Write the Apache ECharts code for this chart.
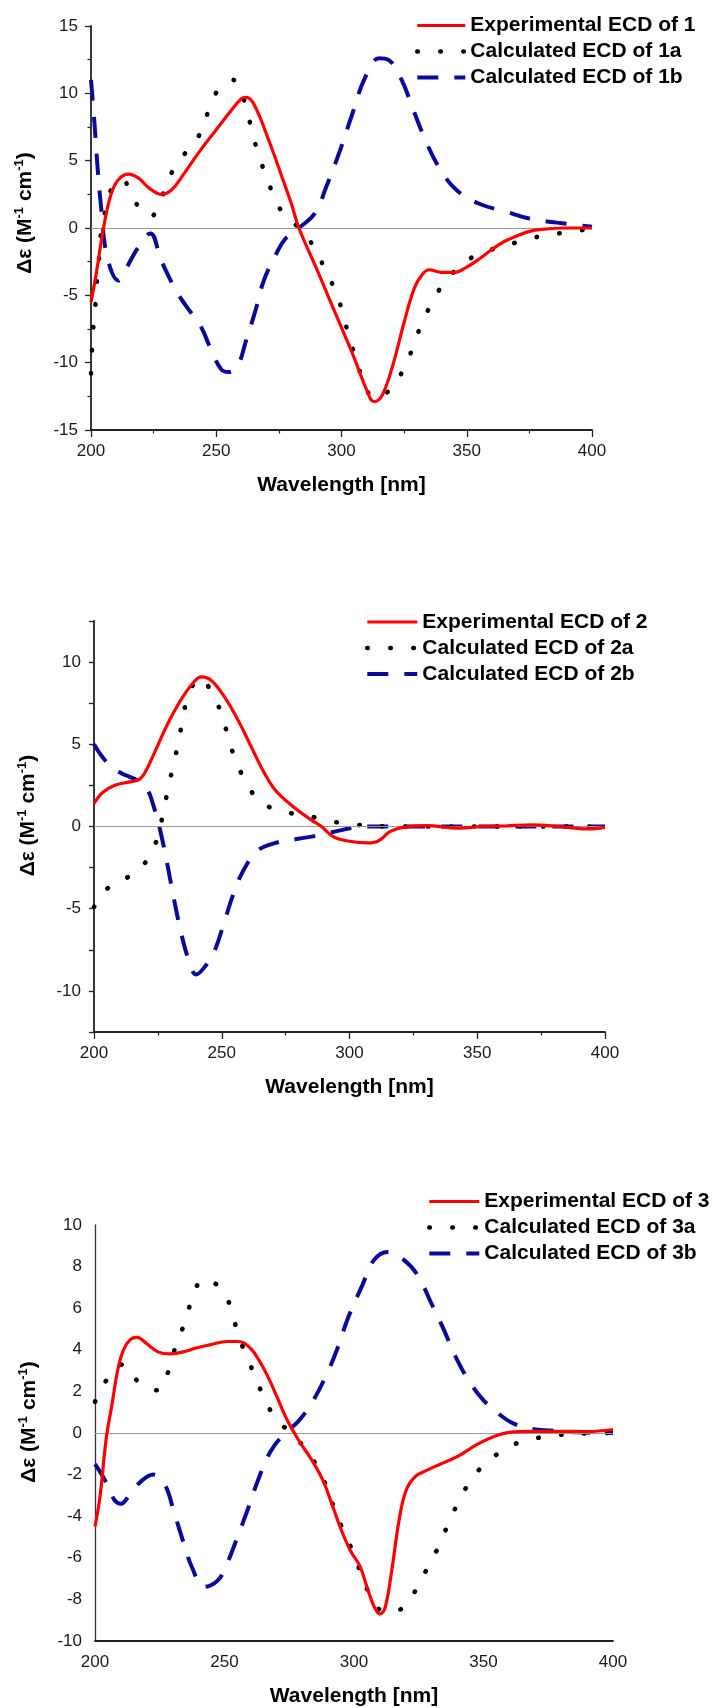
<!DOCTYPE html>
<html>
<head>
<meta charset="utf-8">
<script src="https://cdn.jsdelivr.net/npm/echarts@6/dist/echarts.min.js"></script>
<style>
  html, body { margin: 0; padding: 0; background: #fff; }
  #chart { width: 716px; height: 1708px; }
</style>
</head>
<body>
<div id="chart"></div>
<script>
// compound 1
const wl1e = [200,202,205,208,211,215,219,223,228,232,237,243,250,255,260,262,265,271,276.6,280,283,290,295,300,305,310,313,316,320,325,329,332,335,340,345,350,355,360,365,370,375,380,390,400];
const exp1 = [-5.5,-3.5,0,2.5,3.6,4.0,3.7,3.0,2.5,2.8,4.0,5.6,7.3,8.5,9.6,9.7,9.2,6.5,3.6,1.8,0,-3.0,-5.2,-7.4,-9.6,-12.0,-12.9,-12.5,-10.5,-7.0,-4.5,-3.5,-3.1,-3.3,-3.3,-2.9,-2.3,-1.6,-1.0,-0.6,-0.25,-0.1,0,0];
const wl1a = [200,200.4,200.9,201.8,202.4,203.3,204,205.8,208.2,212.4,217.3,223.7,228.3,231.9,236.5,242.9,246.5,250.2,256.6,261.1,263.5,266,269,272.3,276.3,283,289,293,297.6,300.5,303,306,308.6,313,319.5,325,328.6,332,336,340.5,347,355,364,373,382.5,391.6,400];
const calc1a = [-10.8,-9,-7.4,-5.6,-3.9,-2.1,-0.4,1.3,2.9,3.6,2.0,0.84,2.3,4.0,5.3,6.8,8.5,10.1,11.0,9.5,7.8,6.0,4.3,2.7,1.2,0,-1.4,-2.9,-4.7,-6.3,-8.1,-9.8,-11.3,-12.6,-12.0,-10.4,-8.8,-7.1,-5.6,-4.2,-2.9,-1.9,-1.4,-0.9,-0.5,-0.3,0];
const wl1b = [200,201.5,202.7,204,206.4,211,214,219,223.7,228,233.8,238,243.8,247.4,252,255,258.4,262,265.7,269,274,277.6,283,289.4,294,299.5,304,309.5,315,318.6,324,328.6,334,339.6,346,355,366,375,386,400];
const calc1b = [11.0,7.5,4.3,1.6,-2.1,-3.9,-3.0,-1.4,-0.4,-2.4,-4.6,-5.8,-7.3,-8.8,-10.5,-10.7,-10.3,-8.3,-6.1,-3.9,-1.9,-0.8,0,1.1,3.1,5.8,8.3,11.2,12.6,12.5,11.0,8.8,6.3,4.3,2.8,1.8,1.2,0.7,0.4,0.1];

// compound 2
const wl2e = [200,203.6,208,213.5,218,220.7,224,228.7,234,238.6,242,245.8,251,256.6,262,266.5,271,278,285,289,294,300,307,311,316,321,330,343,352,361,371.6,382,393,400];
const exp2 = [1.4,2.1,2.5,2.7,2.9,3.5,4.6,6.2,7.7,8.7,9.1,8.9,7.9,6.4,4.7,3.3,2.2,1.2,0.4,0,-0.65,-0.9,-1.0,-0.9,-0.3,-0.05,0.05,-0.1,0,0.03,0.1,0,-0.15,-0.05];
const wl2a = [200,205,214,221,225,227,229,231,233,234.7,236.8,241.3,246.7,250.3,253,255.7,260,265,274.6,283.6,292.5,302.4,321,340,368,400];
const calc2a = [-4.9,-3.8,-3.0,-2.0,-0.6,0.8,2.3,3.7,5.1,6.5,7.9,9.0,8.0,6.6,5.2,3.9,2.6,1.5,0.9,0.65,0.33,0.1,0,0,0,0];
const wl2b = [200,204.5,210,217,220.7,223.4,226,228.7,231.4,234,236.8,240,244,247.6,251,254.8,258.4,263.8,271,280,289,296,302.4,310,400];
const calc2b = [5.0,4.0,3.3,2.8,2.3,1.2,-0.3,-2.3,-4.5,-6.4,-8.0,-9.0,-8.4,-7.4,-5.8,-4.0,-2.7,-1.5,-1.0,-0.75,-0.5,-0.25,-0.05,0,0];

// compound 3
const wl3e = [200,202,204.3,206.6,208.9,211,213.7,216.3,219.9,224.3,228.7,234,239.4,244.7,250.9,255.3,259.8,263.3,266.8,270.4,273.9,278.4,283.7,288.1,291.7,295.2,298.8,302.3,305,307.6,310,312,314.7,317.4,320,323.6,328,333.3,340.4,347.5,354.6,360,368.8,379.4,390,400];
const exp3 = [-4.5,-3.0,-0.3,1.4,3.1,4.0,4.5,4.6,4.3,3.9,3.8,3.9,4.1,4.25,4.4,4.4,4.1,3.5,2.7,1.7,0.7,-0.3,-1.3,-2.3,-3.5,-4.7,-5.7,-6.4,-7.4,-8.3,-8.7,-8.4,-6.5,-4.2,-2.8,-2.1,-1.8,-1.5,-1.1,-0.55,-0.15,0.03,0.08,0.08,0.07,0.17];
const wl3a = [200,204.8,211,217.2,224.3,228.7,231.4,235,237.6,242,249,252.7,255.3,258.9,262.4,266,270.4,276.6,283.7,288.1,291.7,295.2,298.8,302.3,305.9,312,319,324.5,328.9,333.3,336.9,341.3,345.7,352,360,369.7,378.5,388.3,400];
const calc3a = [1.5,2.6,3.3,2.4,2.05,3.1,4.3,5.4,6.5,7.4,6.9,5.9,4.7,3.6,2.55,1.5,0.6,-0.1,-1.2,-2.2,-3.4,-4.5,-5.5,-6.6,-7.7,-8.6,-8.4,-7.4,-6.35,-5.3,-4.2,-3.1,-2.15,-1.35,-0.65,-0.27,-0.1,-0.02,0];
const wl3b = [200,204,207.4,210,213.7,218,222.5,227,230.5,234,237.6,242,247.3,250.9,254.4,258.9,263.3,267.7,273,278.4,283.7,289,293.4,297.9,303.2,307.6,313,319,324.5,329.8,334.2,339.5,344.9,350.2,356.4,361.7,368.8,375.9,386.5,400];
const calc3b = [-1.5,-2.3,-3.2,-3.4,-2.9,-2.3,-2.0,-2.5,-3.8,-5.2,-6.5,-7.4,-7.1,-6.3,-5.2,-3.7,-2.15,-0.9,-0.05,0.55,1.45,2.7,4.0,5.6,7.1,8.3,8.7,8.35,7.6,6.25,5.1,3.6,2.4,1.55,0.87,0.45,0.2,0.12,0.03,0];

const names = [
  ['Experimental ECD of 1', 'Calculated ECD of 1a', 'Calculated ECD of 1b'],
  ['Experimental ECD of 2', 'Calculated ECD of 2a', 'Calculated ECD of 2b'],
  ['Experimental ECD of 3', 'Calculated ECD of 3a', 'Calculated ECD of 3b']
];
const xTicks = [200, 250, 300, 350, 400];

const FONT = '"Liberation Sans", Arial, sans-serif';
const AXIS_COLOR = '#222';

const pairs = (xs, ys) => xs.map((x, i) => [x, ys[i]]);

const grids = [
  { left: 91, top: 26, width: 501, height: 404 },
  { left: 94, top: 621, width: 511, height: 411 },
  { left: 95, top: 1225, width: 518, height: 419 }
];
const yRanges = [
  { min: -15, max: 15, interval: 5 },
  { min: -12.5, max: 12.5, interval: 2.5 },
  { min: -10, max: 10, interval: 2 }
];
// how far the rotated y title sits above the axis middle
const yNameLift = [30, 22, 22];
const legendPos = [
  { left: 415, top: 15, w: 48 },
  { left: 365, top: 611.5, w: 50 },
  { left: 427, top: 1191, w: 50 }
];

const xAxis = grids.map((g, i) => ({
  type: 'value',
  gridIndex: i,
  min: xTicks[0],
  max: xTicks[xTicks.length - 1],
  interval: 50,
  axisLine: { show: true, onZero: false, lineStyle: { color: AXIS_COLOR, width: 1.8 } },
  axisTick: { show: i < 2, length: 7, lineStyle: { color: AXIS_COLOR, width: 1.3 } },
  minorTick: { show: i < 2, splitNumber: 2, length: 3.5, lineStyle: { color: AXIS_COLOR, width: 1.2 } },
  splitLine: { show: false },
  axisLabel: { fontSize: 17, color: '#1a1a1a', margin: 13, fontFamily: FONT },
  name: 'Wavelength [nm]',
  nameLocation: 'middle',
  nameGap: 45,
  nameTextStyle: { fontSize: 21, fontWeight: 'bold', color: '#000', fontFamily: FONT }
}));

const yAxis = grids.map((g, i) => ({
  type: 'value',
  gridIndex: i,
  min: yRanges[i].min,
  max: yRanges[i].max,
  interval: yRanges[i].interval,
  axisLine: { show: true, onZero: false, lineStyle: { color: i === 2 ? '#333' : AXIS_COLOR, width: i === 2 ? 1.3 : 1.8 } },
  axisTick: { show: i < 2, length: i === 0 ? 6 : 5, lineStyle: { color: AXIS_COLOR, width: 1.3 } },
  minorTick: { show: i === 0, splitNumber: 2, length: 3.5, lineStyle: { color: AXIS_COLOR, width: 1.2 } },
  splitLine: { show: false },
  axisLabel: {
    fontSize: 17, color: '#1a1a1a', margin: 13, fontFamily: FONT,
    formatter: v => (i === 1 && v % 5 !== 0) ? '' : String(v)
  },
  name: '{a|Δε (M}{s|-1}{a| cm}{s|-1}{a|)}',
  nameLocation: 'middle',
  nameGap: 54,
  nameTextStyle: {
    padding: [0, 0, 0, yNameLift[i]],
    rich: {
      a: { fontSize: 21, fontWeight: 'bold', color: '#000', fontFamily: FONT, lineHeight: 24 },
      s: { fontSize: 13, fontWeight: 'bold', color: '#000', fontFamily: FONT, verticalAlign: 'top', lineHeight: 24 }
    }
  }
}));

const legend = legendPos.map((p, i) => ({
  left: p.left,
  top: p.top,
  orient: 'vertical',
  itemWidth: p.w,
  itemHeight: 14,
  itemGap: 5,
  padding: 0,
  selectedMode: false,
  itemStyle: { opacity: 0 },
  lineStyle: { width: 'inherit' },
  textStyle: { fontSize: 21, lineHeight: 21, fontWeight: 'bold', color: '#000', fontFamily: FONT },
  data: names[i]
}));

const sets = [
  [[wl1e, exp1], [wl1a, calc1a], [wl1b, calc1b]],
  [[wl2e, exp2], [wl2a, calc2a], [wl2b, calc2b]],
  [[wl3e, exp3], [wl3a, calc3a], [wl3b, calc3b]]
];

const styles = [
  { color: '#ff0000', width: 3.2, type: 'solid', z: 5 },
  { color: '#000000', width: 4.6, type: [0.5, 22.5], cap: 'round', z: 4 },
  { color: '#0a0a9a', width: 4, type: [21, 16], cap: 'butt', z: 3 }
];

const series = [];
sets.forEach((set, i) => {
  set.forEach((d, k) => {
    const st = styles[k];
    const s = {
      name: names[i][k],
      type: 'line',
      xAxisIndex: i,
      yAxisIndex: i,
      data: pairs(d[0], d[1]),
      showSymbol: false,
      symbol: 'none',
      smooth: 0.4,
      z: st.z,
      itemStyle: { color: st.color },
      lineStyle: { color: st.color, width: st.width, type: st.type, cap: st.cap || 'butt' }
    };
    if (k === 2) {
      s.markLine = {
        silent: true,
        symbol: 'none',
        label: { show: false },
        lineStyle: { color: '#9a9a9a', width: 1.2, type: 'solid' },
        data: [{ yAxis: 0 }]
      };
    }
    series.push(s);
  });
});

const chart = echarts.init(document.getElementById('chart'));
chart.setOption({
  animation: false,
  backgroundColor: '#fff',
  grid: grids,
  xAxis: xAxis,
  yAxis: yAxis,
  legend: legend,
  series: series
});
</script>
</body>
</html>
